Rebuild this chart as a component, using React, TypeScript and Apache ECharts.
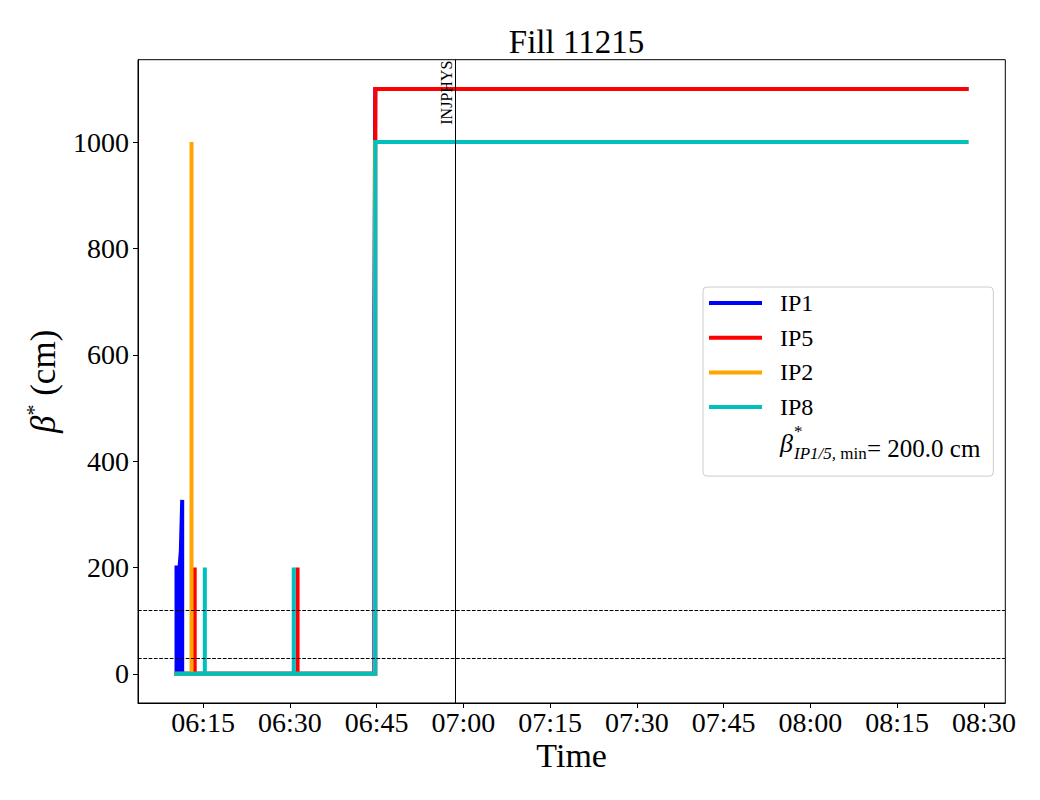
import React, { useEffect, useRef } from 'react';
import * as echarts from 'echarts';

// ---- data (time in minutes since midnight) ----
const TITLE = 'Fill 11215';
const X_TICKS = [375, 390, 405, 420, 435, 450, 465, 480, 495, 510];
const Y_TICKS = [0, 200, 400, 600, 800, 1000];
const X_MIN = 363.76;
const X_MAX = 513.68;
const Y_MIN = -55;
const Y_MAX = 1155;

const IP1_T = [370.42, 370.42, 370.68, 370.68, 370.94, 370.94, 371.16, 371.4, 371.4, 404.61, 404.61, 404.78, 506.97];
const IP1_V = [0, 200, 200, 0, 0, 200, 230, 327, 0, 0, 670, 1100, 1100];

const IP5_T = [370.42, 373.56, 373.56, 373.56, 391.34, 391.34, 391.34, 404.78, 404.78, 506.97];
const IP5_V = [0, 0, 200, 0, 0, 200, 0, 0, 1100, 1100];

const IP2_T = [370.42, 373.01, 373.01, 373.01, 404.7, 404.7, 506.97];
const IP2_V = [0, 0, 1000, 0, 0, 1000, 1000];

const IP8_T = [370.42, 375.31, 375.31, 375.31, 390.68, 390.68, 390.68, 404.78, 404.78, 506.97];
const IP8_V = [0, 0, 200, 0, 0, 200, 0, 0, 1000, 1000];

const REF_LINES = [30, 120];
const INJPHYS_T = 418.65;
const INJPHYS_LABEL = 'INJPHYS';
const BETA_MIN = 200.0;

const FONT = '"Liberation Serif", "Times New Roman", serif';

const zip = (t: number[], v: number[]) => t.map((x, i) => [x, v[i]]);
const pad = (n: number) => (n < 10 ? '0' : '') + n;
const fmtTime = (m: number) => {
  const total = Math.round(m);
  const h = Math.floor(total / 60);
  const mm = total - h * 60;
  return pad(h) + ':' + pad(mm);
};

const lineSeries = (name: string, t: number[], v: number[], color: string) => ({
  type: 'line',
  name,
  data: zip(t, v),
  symbol: 'none',
  showSymbol: false,
  silent: true,
  lineStyle: { color, width: 4, cap: 'square', join: 'miter' },
  itemStyle: { color },
  emphasis: { disabled: true },
});

export default function App() {
  const ref = useRef<HTMLDivElement>(null);
  useEffect(() => {
    if (!ref.current) return;
    const chart = echarts.init(ref.current, undefined, { renderer: 'svg' });
    const option: any = {
      animation: false,
      backgroundColor: '#ffffff',
      textStyle: { fontFamily: FONT },
      title: {
        text: TITLE,
        left: 571.5,
        top: 20,
        textAlign: 'center',
        textStyle: { fontFamily: FONT, fontSize: 33, fontWeight: 'normal', color: '#000' },
      },
      grid: {
        left: 138,
        right: 34.7,
        top: 59.7,
        bottom: 97,
        show: true,
        borderColor: '#000',
        borderWidth: 1,
        backgroundColor: 'transparent',
      },
      legend: {
        orient: 'vertical',
        left: 703,
        top: 287,
        data: ['IP1', 'IP5', 'IP2', 'IP8'],
        icon: 'rect',
        itemWidth: 53,
        itemHeight: 4,
        itemGap: 10.7,
        padding: [4, 180, 57, 6],
        borderColor: '#cccccc',
        borderWidth: 1,
        borderRadius: 4,
        backgroundColor: 'rgba(255,255,255,0.8)',
        textStyle: { fontFamily: FONT, fontSize: 24, lineHeight: 24, color: '#000', padding: [0, 0, 0, 13] },
        selectedMode: false,
      },
      xAxis: {
        type: 'value',
        min: X_MIN,
        max: X_MAX,
        name: 'Time',
        nameLocation: 'middle',
        nameGap: 37,
        nameMoveOverlap: false,
        nameTextStyle: { fontFamily: FONT, fontSize: 34, lineHeight: 30, color: '#000' },
        axisLine: { show: true, onZero: false, lineStyle: { color: '#000', width: 1 } },
        axisTick: { show: true, length: 5, customValues: X_TICKS, lineStyle: { color: '#000' } },
        axisLabel: {
          customValues: X_TICKS,
          formatter: (v: number) => fmtTime(v),
          fontFamily: FONT,
          fontSize: 28,
          lineHeight: 26,
          color: '#000',
          margin: 6,
        },
        splitLine: { show: false },
      },
      yAxis: {
        type: 'value',
        min: Y_MIN,
        max: Y_MAX,
        name: '{b|β}{s|*} {n|(cm)}',
        nameLocation: 'middle',
        nameRotate: 90,
        nameGap: 74,
        nameMoveOverlap: false,
        nameTextStyle: {
          fontFamily: FONT,
          fontSize: 35,
          color: '#000',
          rich: {
            b: { fontFamily: FONT, fontSize: 35, fontStyle: 'italic', lineHeight: 42, color: '#000' },
            s: { fontFamily: FONT, fontSize: 22, verticalAlign: 'top', lineHeight: 22, color: '#000' },
            n: { fontFamily: FONT, fontSize: 35, lineHeight: 42, color: '#000' },
          },
        },
        axisLine: { show: true, onZero: false, lineStyle: { color: '#000', width: 1 } },
        axisTick: { show: true, length: 5, customValues: Y_TICKS, lineStyle: { color: '#000' } },
        axisLabel: {
          customValues: Y_TICKS,
          formatter: (v: number) => String(v),
          fontFamily: FONT,
          fontSize: 28,
          color: '#000',
          margin: 9,
        },
        splitLine: { show: false },
      },
      series: [
        lineSeries('IP1', IP1_T, IP1_V, '#0000ff'),
        lineSeries('IP5', IP5_T, IP5_V, '#ff0000'),
        lineSeries('IP2', IP2_T, IP2_V, '#ffa500'),
        lineSeries('IP8', IP8_T, IP8_V, '#00bfbf'),
        {
          type: 'line',
          name: 'refs',
          data: [],
          silent: true,
          markLine: {
            silent: true,
            symbol: ['none', 'none'],
            animation: false,
            data: [
              ...REF_LINES.map((y) => ({
                yAxis: y,
                lineStyle: { color: '#000', width: 1, type: [3.7, 1.6] },
                label: { show: false },
              })),
              {
                xAxis: INJPHYS_T,
                lineStyle: { color: '#000', width: 1, type: 'solid' },
                label: {
                  show: true,
                  formatter: INJPHYS_LABEL,
                  position: 'insideEndTop',
                  distance: [1, 1],
                  color: '#000',
                  fontFamily: FONT,
                  fontSize: 16,
                },
              },
            ],
          },
        },
      ],
      graphic: [
        {
          type: 'text',
          x: 780,
          y: 443,
          z: 100,
          silent: true,
          style: { text: 'β', fontFamily: FONT, fontSize: 26, fontStyle: 'italic', fill: '#000', verticalAlign: 'middle' },
        },
        {
          type: 'text',
          x: 794,
          y: 431,
          z: 100,
          silent: true,
          style: { text: '*', fontFamily: FONT, fontSize: 17, fill: '#000', verticalAlign: 'middle' },
        },
        {
          type: 'text',
          x: 794,
          y: 453,
          z: 100,
          silent: true,
          style: {
            text: '{i|IP1/5,} {r|min}',
            fontFamily: FONT,
            fontSize: 17,
            lineHeight: 17,
            fill: '#000',
            verticalAlign: 'middle',
            rich: {
              i: { fontFamily: FONT, fontSize: 17, lineHeight: 17, fontStyle: 'italic', fill: '#000' },
              r: { fontFamily: FONT, fontSize: 17, lineHeight: 17, fill: '#000' },
            },
          },
        },
        {
          type: 'text',
          x: 867,
          y: 448,
          z: 100,
          silent: true,
          style: { text: '= ' + BETA_MIN.toFixed(1) + ' cm', fontFamily: FONT, fontSize: 25, fill: '#000', verticalAlign: 'middle' },
        },
      ],
    };
    chart.setOption(option);
    return () => chart.dispose();
  }, []);
  return <div ref={ref} style={{ position: 'absolute', left: 0, top: 0, width: 1040, height: 800 }} />;
}
